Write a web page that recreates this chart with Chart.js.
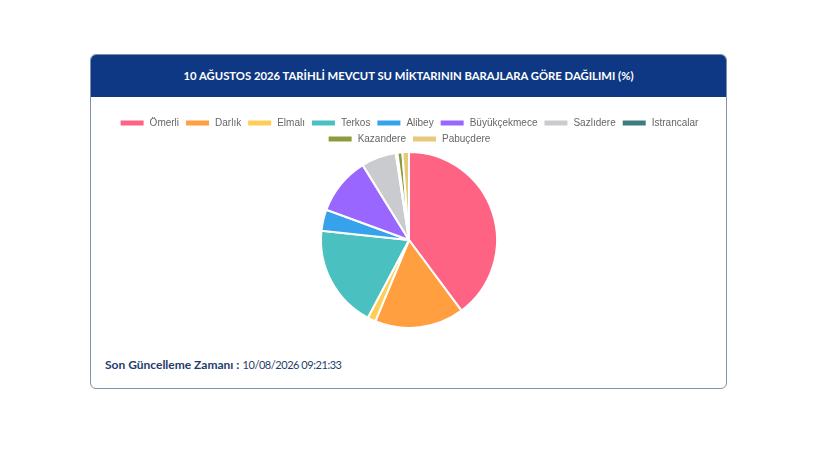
<!DOCTYPE html>
<html>
<head>
<meta charset="utf-8">
<script src="https://cdn.jsdelivr.net/npm/chart.js@4.4.1/dist/chart.umd.min.js"></script>
<style>
  html, body { margin:0; padding:0; background:#ffffff; width:820px; height:461px; overflow:hidden; }
  #card { position:absolute; left:90px; top:54px; width:635px; height:333px; border:1px solid #7d93ab; border-radius:6px; background:#fff; }
  #head { position:absolute; left:0; top:0; width:635px; height:42px; background:#0e3883; border-radius:5px 5px 0 0; color:#fff;
          font-family:"Lato", sans-serif; font-weight:700; font-size:11.3px; line-height:42px; text-align:center; }
  #wrap { position:absolute; left:10px; top:57px; width:616px; height:217px; }
  #foot { position:absolute; left:14px; top:302px; font-family:"Lato", sans-serif; font-size:12px; color:#1f3d6d; }
  #foot b { font-weight:700; }
  #foot span { font-size:11px; letter-spacing:-0.45px; }
</style>
</head>
<body>
<div id="card">
  <div id="head">10 AĞUSTOS 2026 TARİHLİ MEVCUT SU MİKTARININ BARAJLARA GÖRE DAĞILIMI (%)</div>
  <div id="wrap"><canvas id="c"></canvas></div>
  <div id="foot"><b>Son Güncelleme Zamanı :</b> <span>10/08/2026 09:21:33</span></div>
</div>
<script>
const categories = ["Ömerli","Darlık","Elmalı","Terkos","Alibey","Büyükçekmece","Sazlıdere","Istrancalar","Kazandere","Pabuçdere"];
const shares = [39.8, 16.4, 1.5, 18.9, 3.9, 10.6, 6.4, 0.3, 0.9, 1.2];
const sliceColors = ["#ff6384","#ff9f40","#ffcd56","#4bc0c0","#36a2eb","#9966ff","#c9cbcf","#3d7c82","#8e9a3b","#e8c97a"];

const tightLegend = {
  id: 'tightLegend',
  beforeInit(chart) {
    const orig = chart.legend.fit;
    chart.legend.fit = function () { orig.call(this); this.height -= 3; };
  }
};

new Chart(document.getElementById('c'), {
  type: 'pie',
  data: {
    labels: categories,
    datasets: [{ data: shares, backgroundColor: sliceColors, borderColor: '#ffffff', borderWidth: 2 }]
  },
  plugins: [tightLegend],
  options: {
    responsive: true,
    maintainAspectRatio: false,
    animation: false,
    layout: { padding: 0 },
    plugins: {
      legend: {
        position: 'top',
        labels: {
          boxWidth: 25, boxHeight: 7, padding: 6,
          color: '#666666',
          font: { family: '"Liberation Sans", Arial, sans-serif', size: 10 }
        }
      },
      tooltip: { enabled: false }
    }
  }
});
</script>
</body>
</html>
